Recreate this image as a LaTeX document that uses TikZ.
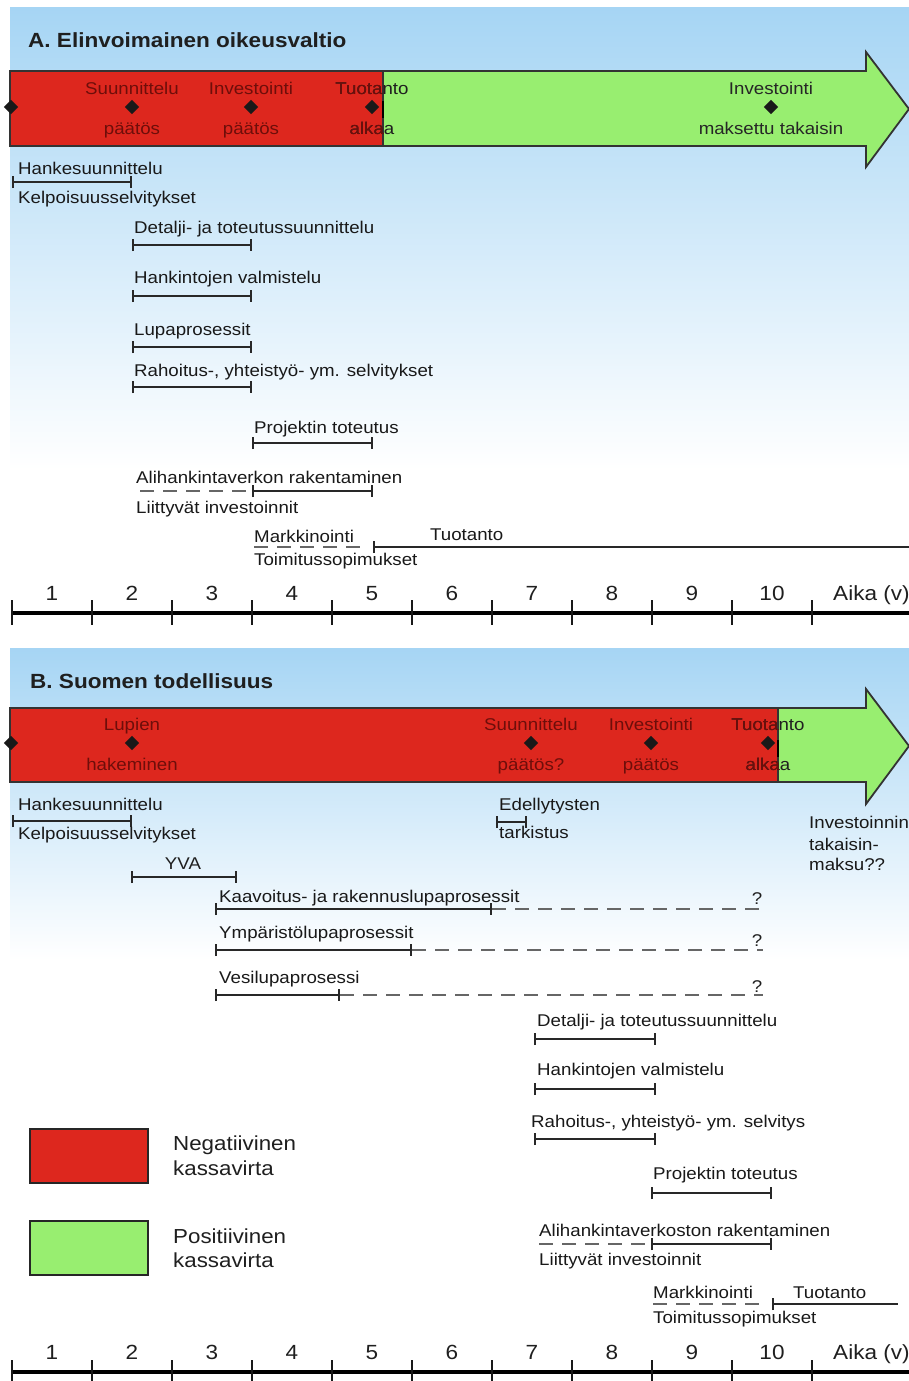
\documentclass[tikz,border=0pt]{standalone}
\usepackage{fontspec}
\setmainfont{Liberation Sans}[FakeStretch=1.1]
\usetikzlibrary{shapes.geometric,arrows.meta}
\definecolor{cashred}{RGB}{221,39,30}
\definecolor{cashgreen}{RGB}{152,238,112}
\definecolor{redtext}{RGB}{110,14,10}
\definecolor{skyblue}{RGB}{166,213,244}
\definecolor{barline}{RGB}{40,40,40}
\tikzset{
  lbl/.style={anchor=base west,inner sep=0pt,text=black!90,font=\fontsize{17}{20}\selectfont},
  mid/.style={anchor=base,inner sep=0pt,font=\fontsize{17}{20}\selectfont},
  heading/.style={anchor=base west,inner sep=0pt,text=black!88,font=\bfseries\fontsize{20.5}{24}\selectfont},
  yearnum/.style={anchor=base,inner sep=0pt,text=black!88,font=\fontsize{20.5}{24}\selectfont},
  legendtext/.style={anchor=base west,inner sep=0pt,text=black!88,font=\fontsize{20.3}{24}\selectfont},
  legendbox/.style={draw=black!85,line width=1.8pt,minimum width=118pt,minimum height=54pt,inner sep=0pt},
  flow/.style={draw=black!80,line width=1.8pt,line join=miter},
  milestone/.style={diamond,fill=black!90,inner sep=0pt,minimum size=14.5pt},
  span/.style={draw=barline,line width=1.8pt,arrows={Bar[width=12pt]-Bar[width=12pt]}},
  startbar/.style={draw=barline,line width=1.8pt,arrows={Bar[width=12pt]-}},
  tentative/.style={draw=black!60,line width=1.7pt,dash pattern=on 14pt off 9pt},
  axisline/.style={draw=black,line width=4pt},
  tickmark/.style={draw=black!90,line width=1.6pt}
}
\begin{document}
\begin{tikzpicture}[x=1pt,y=-1pt]
  \useasboundingbox (0,0) rectangle (909,1381);
  \fill[white] (0,0) rectangle (909,1381);
  \shade[top color=skyblue,bottom color=white] (10,8) rectangle (909,470);
  \shade[top color=skyblue,bottom color=white] (10,648) rectangle (909,960);

  % ---------- A ----------
  \node[heading] (titleA) at (28,48) {A. Elinvoimainen oikeusvaltio};
  \filldraw[flow,fill=cashgreen] (10,71) -- (866,71) -- (866,52) -- (909,109)
    -- (866,167) -- (866,146) -- (10,146) -- cycle;
  \filldraw[flow,fill=cashred] (10,71) rectangle (383,146);
  \node[mid,text=black!88] (tuoA) at (372,94) {Tuotanto};
  \node[mid,text=black!88] (alkA) at (372,134) {alkaa};
  \begin{scope}
    \clip (10,71) rectangle (383,146);
    \node[mid,text=redtext] (suA) at (132,94) {Suunnittelu};
    \node[mid,text=redtext] (spA) at (132,134) {päätös};
    \node[mid,text=redtext] (inA) at (251,94) {Investointi};
    \node[mid,text=redtext] (ipA) at (251,134) {päätös};
    \node[mid,text=redtext] (tuoAr) at (372,94) {Tuotanto};
    \node[mid,text=redtext] (alkAr) at (372,134) {alkaa};
  \end{scope}
  \node[mid,text=black!85] (ivA) at (771,94) {Investointi};
  \node[mid,text=black!85] (mtA) at (771,134) {maksettu takaisin};
  \foreach \nm/\x in {a0/11,a1/132,a2/251,a3/372,a4/771}
    \node[milestone] (\nm) at (\x,107) {};
  \draw[line width=2.6pt] (383,101) -- (383,118);

  \foreach \nm/\xa/\xb/\y in {hsA/12/132/182,dtA/132/252/245,hvA/132/252/296,lpA/132/252/347,
      rhA/132/252/387,ptA/252/373/443,ahA/252/373/491} {
    \coordinate (\nm1) at (\xa,\y);
    \coordinate (\nm2) at (\xb,\y);
    \draw[span] (\nm1) -- (\nm2);
  }
  \coordinate (ahA0) at (140,491);
  \draw[tentative] (ahA0) -- (ahA1);
  \coordinate (mkA1) at (254,547);
  \coordinate (mkA2) at (365,547);
  \draw[tentative] (mkA1) -- (mkA2);
  \coordinate (tuA1) at (373,547);
  \coordinate (tuA2) at (909,547);
  \draw[startbar] (tuA1) -- (tuA2);

  \node[lbl] (hsAt) at (18,174) {Hankesuunnittelu};
  \node[lbl] (hsAb) at (18,203) {Kelpoisuusselvitykset};
  \node[lbl] (dtAt) at (134,233) {Detalji- ja toteutussuunnittelu};
  \node[lbl] (hvAt) at (134,283) {Hankintojen valmistelu};
  \node[lbl] (lpAt) at (134,335) {Lupaprosessit};
  \node[lbl] (rhAt) at (134,376) {Rahoitus-, yhteistyö- ym. selvitykset};
  \node[lbl] (ptAt) at (254,433) {Projektin toteutus};
  \node[lbl] (ahAt) at (136,483) {Alihankintaverkon rakentaminen};
  \node[lbl] (ahAb) at (136,513) {Liittyvät investoinnit};
  \node[lbl] (mkAt) at (254,542) {Markkinointi};
  \node[lbl] (tuAt) at (430,540) {Tuotanto};
  \node[lbl] (mkAb) at (254,565) {Toimitussopimukset};

  % time axis A
  \coordinate (axA1) at (12,613);
  \coordinate (axA2) at (909,613);
  \draw[axisline] (axA1) -- (axA2);
  \foreach \k in {0,...,10}
    \draw[tickmark] ({12+80*\k},600) -- ({12+80*\k},625);
  \foreach \n in {1,...,10}
    \node[yearnum] (yA\n) at ({80*\n-28},600) {\n};
  \node[yearnum,anchor=base west] (aikaA) at (833,600) {Aika (v)};

  % ---------- B ----------
  \node[heading] (titleB) at (30,688) {B. Suomen todellisuus};
  \filldraw[flow,fill=cashgreen] (10,708) -- (866,708) -- (866,689) -- (909,746)
    -- (866,804) -- (866,782) -- (10,782) -- cycle;
  \filldraw[flow,fill=cashred] (10,708) rectangle (778,782);
  \node[mid,text=black!88] (tuoB) at (768,730) {Tuotanto};
  \node[mid,text=black!88] (alkB) at (768,770) {alkaa};
  \begin{scope}
    \clip (10,708) rectangle (778,782);
    \node[mid,text=redtext] (luB) at (132,730) {Lupien};
    \node[mid,text=redtext] (haB) at (132,770) {hakeminen};
    \node[mid,text=redtext] (suB) at (531,730) {Suunnittelu};
    \node[mid,text=redtext] (spB) at (531,770) {päätös?};
    \node[mid,text=redtext] (inB) at (651,730) {Investointi};
    \node[mid,text=redtext] (ipB) at (651,770) {päätös};
    \node[mid,text=redtext] (tuoBr) at (768,730) {Tuotanto};
    \node[mid,text=redtext] (alkBr) at (768,770) {alkaa};
  \end{scope}
  \foreach \nm/\x in {b0/11,b1/132,b2/531,b3/651,b4/768}
    \node[milestone] (\nm) at (\x,743) {};
  \draw[line width=2.6pt] (778,740) -- (778,757);

  \foreach \nm/\xa/\xb/\y in {hsB/12/132/821,edB/496/527/822,yvB/131/237/877,kvB/215/492/909,
      ymB/215/412/950,veB/215/340/995,dtB/534/656/1039,hvB/534/656/1089,rhB/534/656/1139,
      ptB/651/772/1193,ahB/651/772/1244} {
    \coordinate (\nm1) at (\xa,\y);
    \coordinate (\nm2) at (\xb,\y);
    \draw[span] (\nm1) -- (\nm2);
  }
  \foreach \nm/\y in {kvB/909,ymB/950,veB/995} {
    \coordinate (\nm3) at (763,\y);
    \draw[tentative] (\nm2) -- (\nm3);
  }
  \coordinate (ahB0) at (539,1244);
  \draw[tentative] (ahB0) -- (ahB1);
  \coordinate (mkB1) at (653,1304);
  \coordinate (mkB2) at (763,1304);
  \draw[tentative] (mkB1) -- (mkB2);
  \coordinate (tuB1) at (772,1304);
  \coordinate (tuB2) at (898,1304);
  \draw[startbar] (tuB1) -- (tuB2);

  \node[lbl] (hsBt) at (18,810) {Hankesuunnittelu};
  \node[lbl] (hsBb) at (18,839) {Kelpoisuusselvitykset};
  \node[lbl] (edBt) at (499,810) {Edellytysten};
  \node[lbl] (edBb) at (499,838) {tarkistus};
  \node[lbl] (itB1) at (809,828) {Investoinnin};
  \node[lbl] (itB2) at (809,850) {takaisin-};
  \node[lbl] (itB3) at (809,870) {maksu??};
  \node[mid,text=black!88] (yvBt) at (183,869) {YVA};
  \node[lbl] (kvBt) at (219,902) {Kaavoitus- ja rakennuslupaprosessit};
  \node[lbl] (ymBt) at (219,938) {Ympäristölupaprosessit};
  \node[lbl] (veBt) at (219,983) {Vesilupaprosessi};
  \foreach \nm/\y in {q1/904,q2/946,q3/992}
    \node[mid,text=black!88] (\nm) at (757,\y) {?};
  \node[lbl] (dtBt) at (537,1026) {Detalji- ja toteutussuunnittelu};
  \node[lbl] (hvBt) at (537,1075) {Hankintojen valmistelu};
  \node[lbl] (rhBt) at (531,1127) {Rahoitus-, yhteistyö- ym. selvitys};
  \node[lbl] (ptBt) at (653,1179) {Projektin toteutus};
  \node[lbl] (ahBt) at (539,1236) {Alihankintaverkoston rakentaminen};
  \node[lbl] (ahBb) at (539,1265) {Liittyvät investoinnit};
  \node[lbl] (mkBt) at (653,1298) {Markkinointi};
  \node[lbl] (tuBt) at (793,1298) {Tuotanto};
  \node[lbl] (mkBb) at (653,1323) {Toimitussopimukset};

  % legend
  \node[legendbox,fill=cashred] (negbox) at (89,1156) {};
  \node[legendtext] (negt1) at (173,1150) {Negatiivinen};
  \node[legendtext] (negt2) at (173,1175) {kassavirta};
  \node[legendbox,fill=cashgreen] (posbox) at (89,1248) {};
  \node[legendtext] (post1) at (173,1243) {Positiivinen};
  \node[legendtext] (post2) at (173,1267) {kassavirta};

  % time axis B
  \coordinate (axB1) at (12,1372);
  \coordinate (axB2) at (909,1372);
  \draw[axisline] (axB1) -- (axB2);
  \foreach \k in {0,...,10}
    \draw[tickmark] ({12+80*\k},1360) -- ({12+80*\k},1385);
  \foreach \n in {1,...,10}
    \node[yearnum] (yB\n) at ({80*\n-28},1359) {\n};
  \node[yearnum,anchor=base west] (aikaB) at (833,1359) {Aika (v)};
\end{tikzpicture}
\end{document}
